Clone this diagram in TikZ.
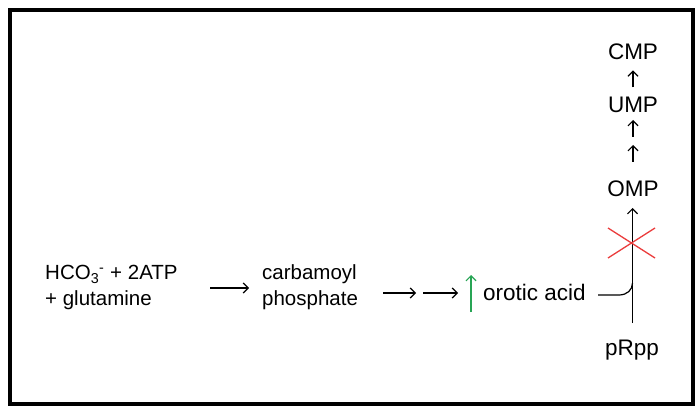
\documentclass[tikz,border=0pt]{standalone}
\usepackage{fontspec}
\setmainfont{Liberation Sans}
\usetikzlibrary{arrows.meta}
\definecolor{grn}{RGB}{40,165,85}
\definecolor{xred}{RGB}{235,60,60}
\begin{document}
\begin{tikzpicture}[x=1pt,y=-1pt,
  lbl/.style={inner sep=0pt,font=\fontsize{20.5}{25}\selectfont},
  big/.style={inner sep=0pt,font=\fontsize{22.5}{25}\selectfont},
  arr/.style={line width=1.2pt,-{Straight Barb[length=5pt,width=10pt]}},
  thinline/.style={line width=1.2pt}]
\useasboundingbox (0,0) rectangle (696,414);
\fill[white] (0,0) rectangle (696,414);
\draw[line width=4pt] (10,10) rectangle (693,404);
% left side
\node[lbl,align=left,anchor=base west] (reac) at (45,305) {HCO\textsubscript{3}\textsuperscript{-} + 2ATP\\+ glutamine};
\node[lbl,align=left,anchor=base west] (carb) at (262,305) {carbamoyl\\phosphate};
\node[big,anchor=base west] (oro) at (483,300) {orotic acid};
\coordinate (a1s) at (210,288);
\coordinate (a1e) at (249,288);
\draw[arr] (a1s) -- (a1e);
\coordinate (b1) at (383,293);
\coordinate (b2) at (416,293);
\coordinate (b3) at (423,293);
\coordinate (b4) at (458,293);
\draw[arr] (b1) -- (b2);
\draw[arr] (b3) -- (b4);
\coordinate (g1) at (471,312);
\coordinate (g2) at (471,275);
\draw[arr,grn] (g1) -- (g2);
% right column
\node[big,anchor=base] (cmp) at (633,60) {CMP};
\node[big,anchor=base] (ump) at (633,113) {UMP};
\node[big,anchor=base] (omp) at (633,197) {OMP};
\node[big,anchor=base] (prpp) at (632,355) {pRpp};
\draw[arr,shorten <=10pt,shorten >=10pt] (ump) -- (cmp);
\coordinate (u1) at (633,137);
\coordinate (u2) at (633,120);
\coordinate (u3) at (633,162);
\coordinate (u4) at (633,145);
\draw[arr] (u1) -- (u2);
\draw[arr] (u3) -- (u4);
\coordinate (vb) at (632.5,323);
\coordinate (vt) at (632.5,208);
\draw[arr] (vb) -- (vt);
\coordinate (j) at (632.5,283);
\coordinate (ls) at (598,295);
\draw[thinline] (ls) -- (619,295) .. controls (627,295) and (632.5,290) .. (j);
\draw[xred,line width=1.3pt] (608,228) -- (655,258);
\draw[xred,line width=1.3pt] (608,258) -- (655,228);
\end{tikzpicture}
\end{document}
